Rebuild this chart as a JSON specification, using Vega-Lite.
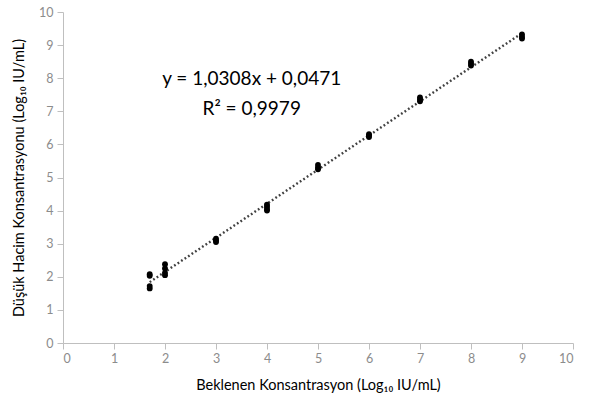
{
  "$schema": "https://vega.github.io/schema/vega-lite/v6.json",
  "autosize": "none",
  "width": 510,
  "height": 331,
  "padding": {"left": 63, "top": 12, "right": 25, "bottom": 59},
  "background": "white",
  "config": {"view": {"stroke": null}, "font": "Lato"},
  "datasets": {
    "pts": [
      {"x": 1.7, "y": 2.08}, {"x": 1.7, "y": 2.03}, {"x": 1.7, "y": 1.72}, {"x": 1.7, "y": 1.65},
      {"x": 2, "y": 2.38}, {"x": 2, "y": 2.25}, {"x": 2, "y": 2.12}, {"x": 2, "y": 2.05},
      {"x": 3, "y": 3.05}, {"x": 3, "y": 3.1}, {"x": 3, "y": 3.15},
      {"x": 4, "y": 4.0}, {"x": 4, "y": 4.05}, {"x": 4, "y": 4.12}, {"x": 4, "y": 4.18},
      {"x": 5, "y": 5.25}, {"x": 5, "y": 5.3}, {"x": 5, "y": 5.38},
      {"x": 6, "y": 6.22}, {"x": 6, "y": 6.27}, {"x": 6, "y": 6.31},
      {"x": 7, "y": 7.3}, {"x": 7, "y": 7.36}, {"x": 7, "y": 7.42},
      {"x": 8, "y": 8.38}, {"x": 8, "y": 8.44}, {"x": 8, "y": 8.5},
      {"x": 9, "y": 9.2}, {"x": 9, "y": 9.25}, {"x": 9, "y": 9.32}
    ],
    "labels": [
      {"x": 3.7, "y": 7.98, "t": "y = 1,0308x + 0,0471"},
      {"x": 3.7, "y": 7.08, "t": "R² = 0,9979"}
    ]
  },
  "layer": [
    {
      "data": {"name": "pts"},
      "transform": [{"regression": "y", "on": "x", "extent": [1.7, 9]}],
      "mark": {"type": "line", "color": "#404040", "strokeWidth": 2.4, "strokeDash": [1.8, 2.4]},
      "encoding": {
        "x": {
          "field": "x", "type": "quantitative",
          "scale": {"domain": [0, 10]},
          "axis": {
            "title": "Beklenen Konsantrasyon (Log₁₀ IU/mL)",
            "titleFont": "Lato", "titleFontSize": 14.5, "titleFontWeight": "normal", "titleColor": "#000000", "titlePadding": 14,
            "grid": false, "tickCount": 10, "domainColor": "#bfbfbf", "tickColor": "#bfbfbf", "tickSize": 6,
            "labelColor": "#8c8c8c", "labelFont": "Lato", "labelFontSize": 12.5, "labelPadding": 3
          }
        },
        "y": {
          "field": "y", "type": "quantitative",
          "scale": {"domain": [0, 10]},
          "axis": {
            "title": "Düşük Hacim Konsantrasyonu (Log₁₀ IU/mL)",
            "titleFont": "Lato", "titleFontSize": 14.5, "titleFontWeight": "normal", "titleColor": "#000000", "titlePadding": 12,
            "grid": false, "tickCount": 10, "domainColor": "#bfbfbf", "tickColor": "#bfbfbf", "tickSize": 6,
            "labelColor": "#8c8c8c", "labelFont": "Lato", "labelFontSize": 12.5, "labelPadding": 4
          }
        }
      }
    },
    {
      "data": {"name": "pts"},
      "mark": {"type": "circle", "color": "#000000", "opacity": 1, "size": 34},
      "encoding": {
        "x": {"field": "x", "type": "quantitative"},
        "y": {"field": "y", "type": "quantitative"}
      }
    },
    {
      "data": {"name": "labels"},
      "mark": {"type": "text", "font": "Lato", "fontSize": 19, "color": "#000000", "align": "center", "baseline": "middle"},
      "encoding": {
        "x": {"field": "x", "type": "quantitative"},
        "y": {"field": "y", "type": "quantitative"},
        "text": {"field": "t"}
      }
    }
  ]
}
